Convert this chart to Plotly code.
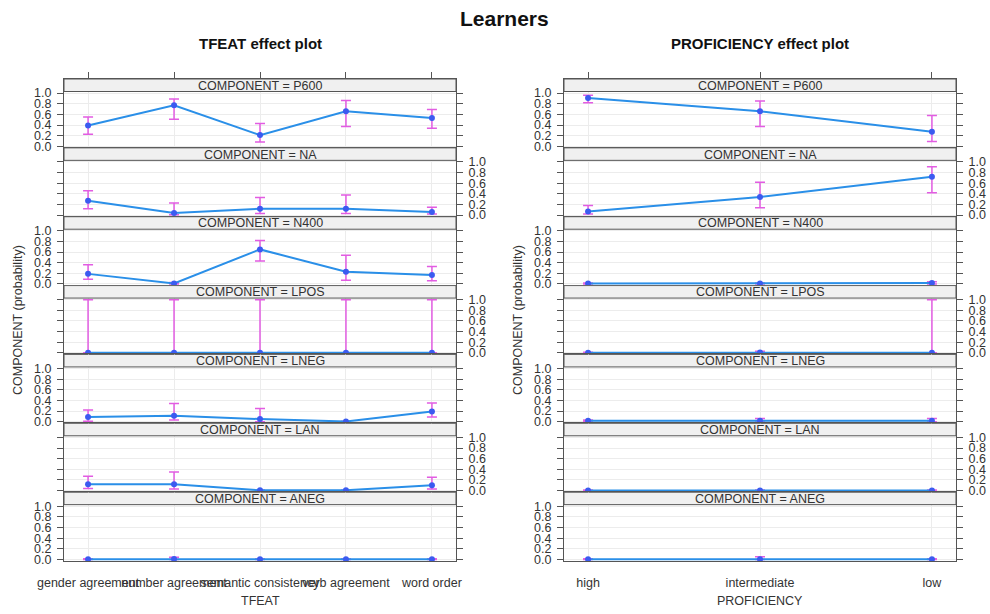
import plotly.graph_objects as go

# ---------------- data ----------------
components = ["P600", "NA", "N400", "LPOS", "LNEG", "LAN", "ANEG"]
tfeat_levels = ["gender agreement", "number agreement", "semantic consistency", "verb agreement", "word order"]
prof_levels = ["high", "intermediate", "low"]
y_ticks = [0.0, 0.2, 0.4, 0.6, 0.8, 1.0]
y_ticktext = ["0.0", "0.2", "0.4", "0.6", "0.8", "1.0"]

tfeat_fit = [
    [0.39, 0.77, 0.21, 0.66, 0.53],
    [0.27, 0.04, 0.12, 0.12, 0.06],
    [0.19, 0.01, 0.65, 0.23, 0.17],
    [0.003, 0.003, 0.003, 0.003, 0.003],
    [0.09, 0.11, 0.05, 0.004, 0.19],
    [0.12, 0.12, 0.004, 0.004, 0.10],
    [0.004, 0.006, 0.004, 0.004, 0.004],
]
tfeat_lower = [
    [0.225, 0.51, 0.08, 0.37, 0.34],
    [0.12, 0.005, 0.03, 0.03, 0.02],
    [0.09, 0.0, 0.43, 0.07, 0.06],
    [0.0, 0.0, 0.0, 0.0, 0.0],
    [0.01, 0.03, 0.0, 0.0, 0.09],
    [0.04, 0.03, 0.0, 0.0, 0.03],
    [0.0, 0.0, 0.0, 0.0, 0.0],
]
tfeat_upper = [
    [0.55, 0.89, 0.43, 0.86, 0.69],
    [0.46, 0.23, 0.33, 0.38, 0.15],
    [0.36, 0.03, 0.82, 0.54, 0.33],
    [1.0, 1.0, 1.0, 1.0, 1.0],
    [0.22, 0.34, 0.25, 0.01, 0.35],
    [0.27, 0.35, 0.01, 0.01, 0.25],
    [0.01, 0.04, 0.01, 0.01, 0.01],
]
prof_fit = [
    [0.91, 0.66, 0.275],
    [0.07, 0.34, 0.72],
    [0.01, 0.01, 0.02],
    [0.003, 0.005, 0.003],
    [0.02, 0.02, 0.02],
    [0.003, 0.003, 0.003],
    [0.003, 0.005, 0.003],
]
prof_lower = [
    [0.82, 0.37, 0.09],
    [0.02, 0.14, 0.42],
    [0.0, 0.0, 0.0],
    [0.0, 0.0, 0.0],
    [0.01, 0.0, 0.0],
    [0.0, 0.0, 0.0],
    [0.0, 0.0, 0.0],
]
prof_upper = [
    [0.96, 0.85, 0.58],
    [0.18, 0.62, 0.91],
    [0.02, 0.02, 0.04],
    [0.01, 0.03, 1.0],
    [0.03, 0.06, 0.06],
    [0.01, 0.01, 0.01],
    [0.01, 0.05, 0.01],
]

# ---------------- layout geometry (pixels) ----------------
W, H = 990, 614
FONT = "Liberation Sans, Arial, sans-serif"
LINE_COL = "#2a8fe8"
PT_COL = "#3b5bf0"
CI_COL = "#e25ce2"
FRAME = "#555555"
GRID = "#ececec"
TXT = "#333333"

frame_top, frame_bot = 79.0, 561.0
block_h = (frame_bot - frame_top) / 7
strip_h = 12.5
y_min, panel_top = -0.03, 1.03
px_per_unit = (block_h - strip_h) / (panel_top - y_min)
y_max = y_min + block_h / px_per_unit

columns = [
    dict(x0=64, x1=456, levels=tfeat_levels, fit=tfeat_fit, lo=tfeat_lower, hi=tfeat_upper,
         title="TFEAT effect plot", xtitle="TFEAT"),
    dict(x0=564, x1=956, levels=prof_levels, fit=prof_fit, lo=prof_lower, hi=prof_upper,
         title="PROFICIENCY effect plot", xtitle="PROFICIENCY"),
]

fig = go.Figure()
layout = dict(
    width=W, height=H, autosize=False,
    margin=dict(l=0, r=0, t=0, b=0, autoexpand=False),
    paper_bgcolor="white", plot_bgcolor="white",
    showlegend=False,
    font=dict(family=FONT, color=TXT, size=12.5),
)
shapes, annotations = [], []

k = 0
for c, col in enumerate(columns):
    n = len(col["levels"])
    pad = 0.07 * (n - 1)
    xr = [1 - pad, n + pad]
    xs = list(range(1, n + 1))
    for r, comp in enumerate(components):
        k += 1
        ax = "" if k == 1 else str(k)
        top = frame_top + r * block_h
        bot = top + block_h
        ydom = [1 - bot / H, 1 - top / H]
        xdom = [col["x0"] / W, col["x1"] / W]
        bottom_row = r == len(components) - 1
        layout["xaxis" + ax] = dict(
            domain=xdom, anchor="y" + ax, range=xr, automargin=False,
            tickmode="array", tickvals=xs, ticktext=col["levels"],
            showticklabels=bottom_row, tickangle=0,
            ticks="", ticklabelstandoff=10,
            tickfont=dict(size=12.5, color=TXT, family=FONT),
            showgrid=True, gridcolor=GRID, gridwidth=1,
            showline=True, linecolor=FRAME, linewidth=1, mirror=True,
            zeroline=False, fixedrange=True,
        )
        layout["yaxis" + ax] = dict(
            domain=ydom, anchor="x" + ax, range=[y_min, y_max], automargin=False,
            tickmode="array", tickvals=y_ticks, ticktext=y_ticktext,
            side="left" if r % 2 == 0 else "right",
            ticks="outside", ticklen=6, tickcolor=FRAME, tickwidth=1,
            ticklabelstandoff=3,
            tickfont=dict(size=12.5, color=TXT, family=FONT),
            showgrid=True, gridcolor=GRID, gridwidth=1,
            showline=True, linecolor=FRAME, linewidth=1, mirror="allticks",
            zeroline=False, fixedrange=True,
        )
        fit = col["fit"][r]
        lo = col["lo"][r]
        hi = col["hi"][r]
        fig.add_trace(go.Scatter(
            x=xs, y=fit, mode="lines+markers",
            line=dict(color=LINE_COL, width=2),
            marker=dict(color=PT_COL, size=6),
            error_y=dict(type="data", symmetric=False,
                         array=[h - f for h, f in zip(hi, fit)],
                         arrayminus=[f - l for f, l in zip(fit, lo)],
                         color=CI_COL, thickness=1.5, width=5),
            xaxis="x" + ax, yaxis="y" + ax, hoverinfo="skip",
        ))
        # strip
        shapes.append(dict(type="rect", xref="x" + ax + " domain", yref="y" + ax,
                           x0=0, x1=1, y0=panel_top, y1=y_max,
                           fillcolor="#f0f0f0", line=dict(color=FRAME, width=1),
                           layer="above"))
        annotations.append(dict(text="COMPONENT = " + comp, showarrow=False,
                                xref="x" + ax + " domain", yref="y" + ax,
                                x=0.5, y=(panel_top + y_max) / 2 - 0.01,
                                xanchor="center", yanchor="middle",
                                font=dict(size=12.5, color=TXT, family=FONT)))
    # top ticks via overlay axis
    first = c * len(components) + 1
    fa = "" if first == 1 else str(first)
    extra = 2 * len(components) + 1 + c
    layout["xaxis" + str(extra)] = dict(
        overlaying="x" + fa, anchor="y" + fa, side="top", range=xr, automargin=False,
        tickmode="array", tickvals=xs, showticklabels=False,
        ticks="outside", ticklen=6, tickcolor=FRAME, tickwidth=1,
        showgrid=False, showline=False, zeroline=False, fixedrange=True,
    )
    fig.add_trace(go.Scatter(x=[xs[0]], y=[0], mode="markers", opacity=0,
                             xaxis="x" + str(extra), yaxis="y" + fa, hoverinfo="skip"))
    cx = (col["x0"] + col["x1"]) / 2
    annotations.append(dict(text="<b>" + col["title"] + "</b>", showarrow=False,
                            xref="paper", yref="paper", x=cx / W, y=1 - 43 / H,
                            xanchor="center", yanchor="middle",
                            font=dict(size=15, color="#111111", family=FONT)))
    annotations.append(dict(text=col["xtitle"], showarrow=False,
                            xref="paper", yref="paper", x=cx / W, y=1 - 601 / H,
                            xanchor="center", yanchor="middle",
                            font=dict(size=12.5, color=TXT, family=FONT)))
    annotations.append(dict(text="COMPONENT (probability)", showarrow=False, textangle=-90,
                            xref="paper", yref="paper", x=(col["x0"] - 46) / W,
                            y=1 - ((frame_top + frame_bot) / 2) / H,
                            xanchor="center", yanchor="middle",
                            font=dict(size=12.5, color=TXT, family=FONT)))

annotations.append(dict(text="<b>Learners</b>", showarrow=False,
                        xref="paper", yref="paper", x=505 / W, y=1 - 18 / H,
                        xanchor="center", yanchor="middle",
                        font=dict(size=21, color="#111111", family=FONT)))

layout["shapes"] = shapes
layout["annotations"] = annotations
fig.update_layout(**layout)
fig.write_html("out.html")
